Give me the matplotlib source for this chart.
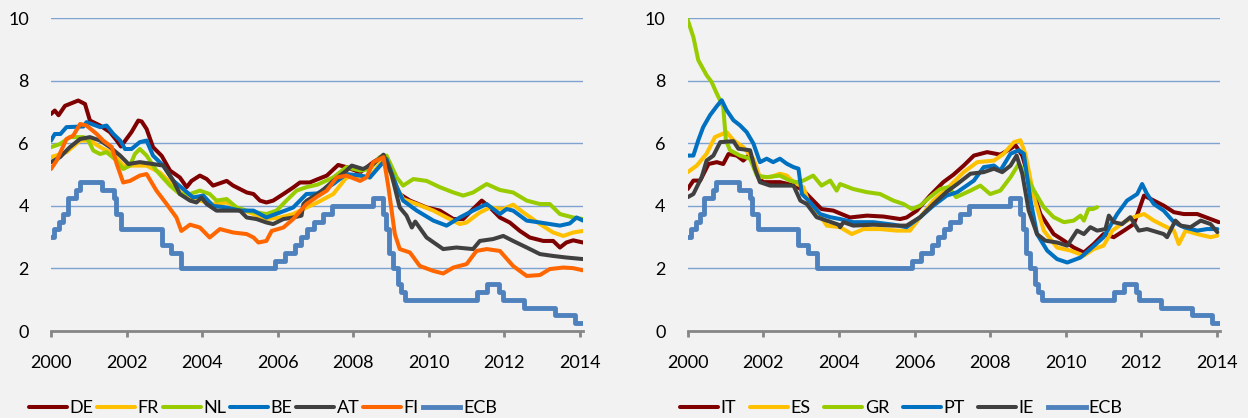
import matplotlib.pyplot as plt

# long-term government bond yields vs ECB main refinancing rate (%), decimal years
de = [(2000.0, 6.94), (2000.1, 7.05), (2000.2, 6.9), (2000.37, 7.2), (2000.72, 7.37), (2000.9, 7.26),
      (2001.03, 6.73), (2001.3, 6.57), (2001.56, 6.36), (2001.74, 6.09), (2001.85, 5.9), (2002.13, 6.36),
      (2002.31, 6.73), (2002.4, 6.7), (2002.53, 6.46), (2002.7, 5.88), (2002.93, 5.6), (2003.15, 5.13),
      (2003.41, 4.91), (2003.59, 4.6), (2003.72, 4.8), (2003.94, 4.97), (2004.12, 4.86), (2004.29, 4.65),
      (2004.65, 4.8), (2004.82, 4.65), (2005.18, 4.43), (2005.36, 4.38), (2005.53, 4.17), (2005.7, 4.11),
      (2005.88, 4.17), (2006.15, 4.38), (2006.41, 4.59), (2006.59, 4.75), (2006.85, 4.75), (2007.05, 4.85),
      (2007.3, 4.97), (2007.6, 5.31), (2007.82, 5.24), (2008.18, 5.07), (2008.53, 5.4), (2008.8, 5.6),
      (2008.97, 5.13), (2009.23, 4.38), (2009.5, 4.17), (2009.94, 3.95), (2010.29, 3.85), (2010.65, 3.58),
      (2010.91, 3.58), (2011.17, 3.9), (2011.4, 4.17), (2011.62, 3.95), (2011.88, 3.63), (2012.14, 3.47),
      (2012.41, 3.2), (2012.67, 2.99), (2013.03, 2.88), (2013.29, 2.88), (2013.47, 2.67), (2013.64, 2.83),
      (2013.82, 2.9), (2014.08, 2.83)]
fr = [(2000.0, 5.56), (2000.41, 5.72), (2000.77, 6.09), (2001.03, 6.09), (2001.3, 5.88), (2001.65, 5.66),
      (2001.91, 5.29), (2002.18, 5.29), (2002.53, 5.29), (2002.88, 5.07), (2003.24, 4.65), (2003.59, 4.27),
      (2003.94, 4.17), (2004.29, 4.06), (2004.65, 4.11), (2005.0, 3.9), (2005.36, 3.74), (2005.7, 3.58),
      (2006.06, 3.63), (2006.41, 3.74), (2006.76, 3.95), (2007.05, 4.11), (2007.47, 4.38), (2007.82, 4.91),
      (2008.18, 4.97), (2008.44, 4.91), (2008.7, 5.34), (2008.84, 5.56), (2009.06, 4.8), (2009.32, 4.22),
      (2009.68, 4.06), (2010.12, 3.85), (2010.47, 3.63), (2010.82, 3.42), (2011.0, 3.47), (2011.35, 3.79),
      (2011.62, 3.95), (2011.97, 3.9), (2012.23, 4.04), (2012.5, 3.79), (2012.94, 3.42), (2013.29, 3.15),
      (2013.56, 3.04), (2013.82, 3.15), (2014.08, 3.2)]
nl = [(2000.0, 5.88), (2000.24, 5.98), (2000.5, 6.2), (2000.86, 6.2), (2000.99, 6.09), (2001.12, 5.77),
      (2001.3, 5.66), (2001.47, 5.72), (2001.69, 5.5), (2001.91, 5.18), (2002.09, 5.29), (2002.22, 5.66),
      (2002.35, 5.82), (2002.53, 5.61), (2002.79, 5.13), (2003.15, 4.65), (2003.41, 4.38), (2003.68, 4.38),
      (2003.94, 4.49), (2004.2, 4.38), (2004.38, 4.17), (2004.65, 4.22), (2004.91, 3.95), (2005.18, 3.85),
      (2005.44, 3.79), (2005.7, 3.74), (2005.97, 3.85), (2006.23, 4.17), (2006.5, 4.49), (2006.76, 4.6),
      (2007.05, 4.68), (2007.47, 4.91), (2007.82, 5.24), (2008.18, 5.13), (2008.44, 5.18), (2008.7, 5.56),
      (2008.88, 5.61), (2009.15, 4.91), (2009.32, 4.65), (2009.59, 4.86), (2009.94, 4.8), (2010.29, 4.6),
      (2010.65, 4.43), (2010.91, 4.33), (2011.17, 4.43), (2011.53, 4.7), (2011.88, 4.51), (2012.23, 4.43),
      (2012.59, 4.17), (2012.94, 4.06), (2013.2, 4.06), (2013.47, 3.74), (2013.82, 3.63), (2014.08, 3.58)]
be = [(2000.0, 6.09), (2000.1, 6.3), (2000.25, 6.3), (2000.41, 6.52), (2000.86, 6.54), (2000.94, 6.68),
      (2001.3, 6.52), (2001.47, 6.57), (2001.65, 6.3), (2001.83, 6.09), (2001.96, 5.82), (2002.13, 5.82),
      (2002.35, 6.04), (2002.53, 6.09), (2002.7, 5.61), (2002.97, 5.29), (2003.24, 4.8), (2003.5, 4.54),
      (2003.76, 4.27), (2004.03, 4.33), (2004.29, 4.0), (2004.65, 3.95), (2005.0, 3.85), (2005.36, 3.85),
      (2005.7, 3.63), (2006.06, 3.79), (2006.41, 3.95), (2006.76, 4.38), (2007.05, 4.4), (2007.47, 4.7),
      (2007.82, 5.02), (2008.18, 4.97), (2008.44, 4.91), (2008.75, 5.34), (2008.88, 5.5), (2009.15, 4.6),
      (2009.32, 4.17), (2009.68, 3.85), (2010.12, 3.53), (2010.47, 3.37), (2010.82, 3.63), (2011.17, 3.85),
      (2011.53, 4.06), (2011.88, 3.74), (2012.06, 3.9), (2012.23, 3.85), (2012.59, 3.53), (2012.94, 3.47),
      (2013.47, 3.37), (2013.73, 3.44), (2013.91, 3.63), (2014.08, 3.53)]
at = [(2000.0, 5.4), (2000.24, 5.56), (2000.5, 5.88), (2000.77, 6.14), (2001.03, 6.2), (2001.3, 6.09),
      (2001.56, 5.88), (2001.83, 5.61), (2002.05, 5.34), (2002.35, 5.4), (2002.7, 5.34), (2002.97, 5.29),
      (2003.24, 4.8), (2003.41, 4.38), (2003.68, 4.17), (2003.85, 4.11), (2003.98, 4.27), (2004.12, 4.06),
      (2004.38, 3.85), (2004.65, 3.85), (2005.0, 3.85), (2005.18, 3.63), (2005.44, 3.58), (2005.7, 3.47),
      (2005.88, 3.42), (2006.15, 3.58), (2006.41, 3.63), (2006.63, 3.69), (2006.68, 4.06), (2006.77, 4.17),
      (2007.12, 4.43), (2007.47, 4.8), (2007.82, 5.13), (2007.96, 5.29), (2008.26, 5.18), (2008.53, 5.34),
      (2008.8, 5.64), (2009.01, 5.02), (2009.23, 3.95), (2009.41, 3.69), (2009.55, 3.31), (2009.64, 3.5),
      (2009.94, 2.99), (2010.38, 2.62), (2010.73, 2.67), (2011.17, 2.62), (2011.35, 2.88), (2011.7, 2.94),
      (2011.97, 3.04), (2012.23, 2.88), (2012.59, 2.67), (2012.94, 2.46), (2013.29, 2.4), (2013.64, 2.35),
      (2014.08, 2.3)]
fi = [(2000.0, 5.18), (2000.15, 5.45), (2000.41, 6.14), (2000.59, 6.25), (2000.77, 6.62), (2000.94, 6.57),
      (2001.21, 6.3), (2001.38, 6.09), (2001.61, 5.88), (2001.74, 5.34), (2001.91, 4.75), (2002.09, 4.8),
      (2002.35, 4.97), (2002.53, 5.02), (2002.79, 4.49), (2003.06, 4.06), (2003.32, 3.63), (2003.45, 3.2),
      (2003.68, 3.4), (2003.94, 3.31), (2004.2, 2.99), (2004.47, 3.26), (2004.82, 3.15), (2005.18, 3.1),
      (2005.36, 2.99), (2005.49, 2.83), (2005.7, 2.88), (2005.84, 3.2), (2006.15, 3.31), (2006.41, 3.58),
      (2006.76, 4.06), (2007.05, 4.3), (2007.3, 4.49), (2007.56, 4.91), (2007.82, 4.97), (2008.18, 4.8),
      (2008.35, 4.91), (2008.53, 5.4), (2008.8, 5.56), (2008.93, 4.6), (2009.1, 3.1), (2009.23, 2.62),
      (2009.5, 2.51), (2009.76, 2.08), (2010.12, 1.92), (2010.38, 1.84), (2010.65, 2.03), (2011.0, 2.14),
      (2011.26, 2.56), (2011.53, 2.62), (2011.88, 2.56), (2012.23, 2.08), (2012.59, 1.76), (2012.94, 1.79),
      (2013.2, 1.98), (2013.56, 2.03), (2013.82, 2.01), (2014.08, 1.94)]

it = [(2000.0, 4.54), (2000.15, 4.81), (2000.33, 4.81), (2000.55, 5.34), (2000.77, 5.4), (2000.94, 5.34),
      (2001.08, 5.66), (2001.3, 5.61), (2001.47, 5.45), (2001.65, 5.66), (2001.87, 4.91), (2002.0, 4.76),
      (2002.44, 4.76), (2002.84, 4.65), (2003.06, 4.49), (2003.32, 4.17), (2003.54, 3.9), (2003.85, 3.85),
      (2004.29, 3.63), (2004.74, 3.69), (2005.18, 3.66), (2005.62, 3.58), (2005.79, 3.63), (2006.06, 3.85),
      (2006.41, 4.33), (2006.76, 4.76), (2007.03, 5.0), (2007.3, 5.29), (2007.57, 5.61), (2007.92, 5.72),
      (2008.27, 5.64), (2008.54, 5.83), (2008.67, 5.94), (2008.85, 5.61), (2009.07, 4.7), (2009.33, 3.74),
      (2009.68, 3.1), (2009.95, 2.89), (2010.21, 2.67), (2010.48, 2.51), (2010.74, 2.78), (2011.0, 3.1),
      (2011.27, 3.0), (2011.54, 3.21), (2011.8, 3.42), (2011.93, 3.85), (2012.07, 4.33), (2012.33, 4.17),
      (2012.59, 4.01), (2012.86, 3.8), (2013.12, 3.74), (2013.48, 3.74), (2013.83, 3.58), (2014.05, 3.48)]
es = [(2000.0, 5.08), (2000.24, 5.29), (2000.5, 5.67), (2000.72, 6.2), (2001.03, 6.36), (2001.21, 6.1),
      (2001.47, 5.88), (2001.74, 5.5), (2001.91, 4.92), (2002.18, 4.92), (2002.44, 5.03), (2002.62, 4.97),
      (2002.8, 4.76), (2003.06, 4.6), (2003.24, 3.96), (2003.5, 3.69), (2003.68, 3.37), (2004.03, 3.32),
      (2004.34, 3.1), (2004.65, 3.26), (2005.09, 3.26), (2005.53, 3.21), (2005.88, 3.21), (2006.15, 3.64),
      (2006.5, 4.17), (2006.9, 4.6), (2007.3, 5.08), (2007.66, 5.4), (2008.1, 5.45), (2008.36, 5.67),
      (2008.63, 6.04), (2008.8, 6.1), (2008.93, 5.67), (2009.16, 4.28), (2009.42, 3.21), (2009.77, 2.67),
      (2010.13, 2.57), (2010.48, 2.41), (2010.74, 2.62), (2011.0, 2.73), (2011.23, 3.21), (2011.54, 3.48),
      (2011.8, 3.64), (2012.07, 3.74), (2012.33, 3.53), (2012.59, 3.37), (2012.86, 3.21), (2012.99, 2.78),
      (2013.17, 3.21), (2013.48, 3.1), (2013.83, 3.0), (2014.01, 3.05)]
gr = [(2000.0, 9.95), (2000.15, 9.4), (2000.28, 8.66), (2000.5, 8.18), (2000.63, 7.97), (2000.77, 7.59),
      (2000.94, 7.17), (2001.01, 6.1), (2001.12, 5.78), (2001.38, 5.61), (2001.65, 5.51), (2001.83, 4.97),
      (2002.09, 4.92), (2002.44, 4.97), (2002.7, 4.81), (2002.88, 4.76), (2003.06, 4.81), (2003.32, 4.97),
      (2003.54, 4.65), (2003.77, 4.81), (2003.94, 4.49), (2004.03, 4.7), (2004.38, 4.54), (2004.74, 4.44),
      (2005.09, 4.38), (2005.44, 4.17), (2005.71, 4.06), (2005.93, 3.9), (2006.15, 4.01), (2006.41, 4.28),
      (2006.68, 4.54), (2006.9, 4.6), (2007.1, 4.28), (2007.48, 4.49), (2007.74, 4.65), (2008.0, 4.38),
      (2008.27, 4.49), (2008.54, 4.92), (2008.76, 5.35), (2008.93, 5.03), (2009.16, 4.49), (2009.42, 3.96),
      (2009.68, 3.64), (2009.95, 3.48), (2010.21, 3.53), (2010.39, 3.69), (2010.48, 3.53), (2010.6, 3.9),
      (2010.72, 3.9), (2010.83, 3.96)]
pt = [(2000.0, 5.61), (2000.15, 5.61), (2000.28, 6.1), (2000.41, 6.52), (2000.59, 6.9), (2000.77, 7.19),
      (2000.9, 7.38), (2001.03, 7.06), (2001.21, 6.74), (2001.38, 6.58), (2001.56, 6.36), (2001.74, 5.99),
      (2001.91, 5.4), (2002.09, 5.51), (2002.26, 5.4), (2002.44, 5.51), (2002.62, 5.35), (2002.8, 5.24),
      (2002.93, 5.19), (2003.02, 4.38), (2003.24, 4.12), (2003.5, 3.74), (2003.77, 3.64), (2004.03, 3.58),
      (2004.38, 3.48), (2004.91, 3.48), (2005.44, 3.4), (2005.79, 3.32), (2006.15, 3.64), (2006.5, 4.01),
      (2006.85, 4.33), (2007.13, 4.44), (2007.57, 4.81), (2007.83, 5.24), (2008.1, 5.29), (2008.27, 5.13),
      (2008.54, 5.67), (2008.76, 5.78), (2008.89, 5.67), (2009.07, 4.17), (2009.24, 3.1), (2009.51, 2.57),
      (2009.77, 2.3), (2010.04, 2.19), (2010.39, 2.35), (2010.65, 2.62), (2011.0, 3.0), (2011.36, 3.74),
      (2011.62, 4.17), (2011.89, 4.38), (2012.02, 4.7), (2012.15, 4.38), (2012.33, 4.06), (2012.59, 3.85),
      (2012.86, 3.48), (2013.12, 3.32), (2013.48, 3.21), (2013.74, 3.26), (2014.01, 3.26)]
ie = [(2000.0, 4.28), (2000.15, 4.38), (2000.37, 4.92), (2000.5, 5.45), (2000.68, 5.61), (2000.86, 6.04),
      (2001.21, 6.07), (2001.34, 5.83), (2001.65, 5.78), (2001.78, 5.19), (2001.91, 4.76), (2002.18, 4.65),
      (2002.8, 4.65), (2002.98, 4.17), (2003.15, 4.06), (2003.41, 3.64), (2003.68, 3.53), (2003.99, 3.4),
      (2004.03, 3.32), (2004.12, 3.48), (2004.38, 3.37), (2004.91, 3.4), (2005.44, 3.37), (2005.79, 3.37),
      (2006.15, 3.64), (2006.5, 4.06), (2006.85, 4.45), (2007.13, 4.7), (2007.48, 5.03), (2007.83, 5.08),
      (2008.1, 5.19), (2008.32, 5.08), (2008.54, 5.29), (2008.7, 5.61), (2008.85, 5.03), (2009.02, 3.85),
      (2009.24, 3.1), (2009.46, 2.89), (2009.77, 2.83), (2010.04, 2.73), (2010.3, 3.21), (2010.48, 3.1),
      (2010.65, 3.32), (2010.83, 3.21), (2011.05, 3.26), (2011.14, 3.69), (2011.27, 3.48), (2011.49, 3.42),
      (2011.71, 3.64), (2011.93, 3.21), (2012.15, 3.26), (2012.59, 3.1), (2012.68, 3.0), (2012.9, 3.53),
      (2013.04, 3.37), (2013.3, 3.32), (2013.57, 3.53), (2013.83, 3.42), (2014.01, 3.16)]

# ECB main refinancing rate, change dates
ecb_dates = [2000.0, 2000.09, 2000.21, 2000.32, 2000.44, 2000.67, 2000.76, 2001.36, 2001.66, 2001.71,
             2001.86, 2002.93, 2003.18, 2003.43, 2005.93, 2006.18, 2006.45, 2006.61, 2006.78, 2006.95,
             2007.2, 2007.45, 2008.52, 2008.79, 2008.87, 2008.94, 2009.05, 2009.19, 2009.27, 2009.36,
             2011.28, 2011.53, 2011.86, 2011.95, 2012.53, 2013.35, 2013.87, 2014.08]
ecb_rates = [3.0, 3.25, 3.5, 3.75, 4.25, 4.5, 4.75, 4.5, 4.25, 3.75, 3.25, 2.75, 2.5, 2.0, 2.25, 2.5,
             2.75, 3.0, 3.25, 3.5, 3.75, 4.0, 4.25, 3.75, 3.25, 2.5, 2.0, 1.5, 1.25, 1.0, 1.25, 1.5,
             1.25, 1.0, 0.75, 0.5, 0.25, 0.25]

core = [("DE", de, "#7F0000"), ("FR", fr, "#FFC000"), ("NL", nl, "#99CC00"),
        ("BE", be, "#0070C0"), ("AT", at, "#404040"), ("FI", fi, "#FF6600")]
periphery = [("IT", it, "#7F0000"), ("ES", es, "#FFC000"), ("GR", gr, "#99CC00"),
             ("PT", pt, "#0070C0"), ("IE", ie, "#404040")]

years = list(range(2000, 2015, 2))
bg = "#F2F2F2"

plt.rcParams["font.family"] = ["Lato", "DejaVu Sans"]

W, H = 1248, 418
fig = plt.figure(figsize=(W / 100, H / 100), dpi=100, facecolor=bg)


def panel(x0, x1, series, legend_x, colspace):
    ax = fig.add_axes([x0 / W, 1 - 331 / H, (x1 - x0) / W, (331 - 18.3) / H])
    ax.set_facecolor(bg)
    for name, pts, col in series:
        ax.plot([p[0] for p in pts], [p[1] for p in pts], color=col, lw=2.9,
                label=name, solid_joinstyle="round", solid_capstyle="round")
    ax.plot(ecb_dates, ecb_rates, color="#4F81BD", lw=3.5, drawstyle="steps-post", label="ECB")
    ax.set_xlim(2000, 2014.08)
    ax.set_ylim(0, 10)
    ax.set_yticks([0, 2, 4, 6, 8, 10])
    ax.set_xticks(years)
    ax.set_xticklabels([str(y) for y in years])
    for y in [2, 4, 6, 8, 10]:
        ax.axhline(y, color="#7FA3D0", lw=1.0, zorder=0)
    for s in ["top", "right", "left"]:
        ax.spines[s].set_visible(False)
    ax.spines["bottom"].set_color("#868686")
    ax.spines["bottom"].set_linewidth(2.0)
    ax.tick_params(axis="y", length=0, pad=16, labelsize=13)
    ax.tick_params(axis="x", length=4.5, width=2.0, color="#868686", pad=13, labelsize=13)
    handles, labels = ax.get_legend_handles_labels()
    fig.legend(handles, labels, loc="center left", bbox_to_anchor=(legend_x / W, 1 - 408 / H),
               ncol=len(labels), frameon=False, fontsize=13, handlelength=2.1,
               handletextpad=0.15, columnspacing=colspace, borderpad=0, borderaxespad=0)
    return ax


panel(51, 583, core, 29, 0.2)
panel(687.7, 1220, periphery, 680, 0.75)

fig.savefig("out.png", dpi=100, facecolor=bg)
